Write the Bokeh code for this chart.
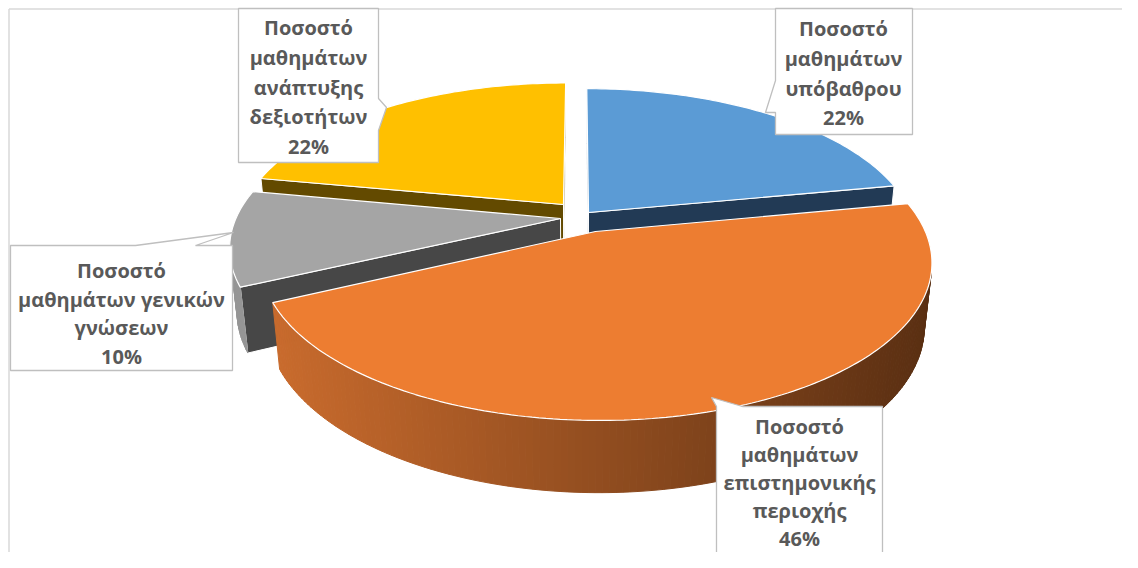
import numpy as np
from bokeh.plotting import figure
from bokeh.models import Range1d
from bokeh.embed import file_html
from bokeh.resources import INLINE
from bokeh.core.properties import value

# ---------------- data ----------------
categories = [
    "Ποσοστό μαθημάτων υπόβαθρου",
    "Ποσοστό μαθημάτων επιστημονικής περιοχής",
    "Ποσοστό μαθημάτων γενικών γνώσεων",
    "Ποσοστό μαθημάτων ανάπτυξης δεξιοτήτων",
]
values = [22, 46, 10, 22]
label_lines = [
    ["Ποσοστό", "μαθημάτων", "υπόβαθρου"],
    ["Ποσοστό", "μαθημάτων", "επιστημονικής", "περιοχής"],
    ["Ποσοστό", "μαθημάτων γενικών", "γνώσεων"],
    ["Ποσοστό", "μαθημάτων", "ανάπτυξης", "δεξιοτήτων"],
]

# ---------------- styles ----------------
top_colors = ["#5B9BD5", "#ED7D31", "#A5A5A5", "#FFC000"]
cut_colors = ["#223A55", "#6B3A16", "#474747", "#634A00"]
side_light = ["#3E6E9C", "#C96B2D", "#959595", "#8A6A00"]
side_dark = ["#24405C", "#5A2F12", "#6E6E6E", "#5E4800"]
TEXT_COLOR = "#595959"
BOX_LINE = "#BFBFBF"
FONT = "Open Sans"

W, H = 1122, 552
p = figure(width=W, height=H, x_range=Range1d(0, W), y_range=Range1d(H, 0),
           output_backend="svg", toolbar_location=None, min_border=0)
p.axis.visible = False
p.grid.visible = False
p.outline_line_color = None
p.background_fill_color = "white"
p.border_fill_color = "white"

# chart border (top and left visible)
p.line(x=[8.5, W], y=[8.5, 8.5], line_color="#D9D9D9", line_width=1.5)
p.line(x=[8.5, 8.5], y=[8.5, H], line_color="#D9D9D9", line_width=1.5)

# ---------------- 3D projection ----------------
phi = np.radians(27.3)
cphi, sphi = np.cos(phi), np.sin(phi)
Dst = 4.81
S = 325 * Dst
cx, cy = 577, 219
h = 0.22
cam = np.array([0.0, -Dst * cphi, Dst * sphi])

# screen positions of each slice's apex (explosion placement)
apex_screen = [(588, 212), (595, 231), (560, 218), (563, 204)]


def proj(x, y, z):
    depth = y * cphi - z * sphi + Dst
    yc = y * sphi + z * cphi
    return cx + S * x / depth, cy - S * yc / depth


def unproj_flat(X, Y):
    k = (cy - Y) / (S * sphi)
    oy = k * Dst / (1 - k * cphi)
    ox = (X - cx) * (Dst + oy * cphi) / S
    return ox, oy


def lerp_color(c1, c2, t):
    t = min(max(t, 0.0), 1.0)
    a = [int(c1[i:i + 2], 16) for i in (1, 3, 5)]
    b = [int(c2[i:i + 2], 16) for i in (1, 3, 5)]
    return "#%02x%02x%02x" % tuple(int(round(a[k] + (b[k] - a[k]) * t)) for k in range(3))


total = float(sum(values))
starts = np.concatenate([[0], np.cumsum(values)[:-1]]) / total * 2 * np.pi
ends = np.cumsum(values) / total * 2 * np.pi


def visible(pt, n):
    return np.dot(np.array(pt) - cam, np.array(n)) < 0


def draw_slice(i):
    a, b = starts[i], ends[i]
    ox, oy = unproj_flat(*apex_screen[i])
    n_arc = max(int((b - a) / np.radians(1.0)), 4)
    th = np.linspace(a, b, n_arc + 1)

    # radial cut faces
    for ang, nrm in ((a, (-np.cos(a), np.sin(a), 0.0)), (b, (np.cos(b), -np.sin(b), 0.0))):
        rx, ry = ox + np.sin(ang), oy + np.cos(ang)
        cen = (0.5 * (ox + rx), 0.5 * (oy + ry), -h / 2)
        if visible(cen, nrm):
            pts = [proj(ox, oy, 0), proj(rx, ry, 0), proj(rx, ry, -h), proj(ox, oy, -h)]
            p.patch([q[0] for q in pts], [q[1] for q in pts], fill_color=cut_colors[i],
                    line_color="white", line_width=1.0)

    # outer curved side as shaded strips
    xs, ys, cols = [], [], []
    for k in range(n_arc):
        t0, t1 = th[k], th[k + 1]
        tm = 0.5 * (t0 + t1)
        cen = (ox + np.sin(tm), oy + np.cos(tm), -h / 2)
        if not visible(cen, (np.sin(tm), np.cos(tm), 0.0)):
            continue
        pts = [proj(ox + np.sin(t0), oy + np.cos(t0), 0), proj(ox + np.sin(t1), oy + np.cos(t1), 0),
               proj(ox + np.sin(t1), oy + np.cos(t1), -h), proj(ox + np.sin(t0), oy + np.cos(t0), -h)]
        xs.append([q[0] for q in pts])
        ys.append([q[1] for q in pts])
        X = proj(cen[0], cen[1], 0)[0]
        cols.append(lerp_color(side_light[i], side_dark[i], (X - 270) / 660))
    if xs:
        p.patches(xs, ys, fill_color=cols, line_color=cols, line_width=1.0)

    # top face
    pts = [proj(ox, oy, 0)] + [proj(ox + np.sin(t), oy + np.cos(t), 0) for t in th]
    p.patch([q[0] for q in pts], [q[1] for q in pts], fill_color=top_colors[i],
            line_color="white", line_width=1.2)


for idx in (3, 0, 2, 1):
    draw_slice(idx)

# ---------------- callout labels ----------------
boxes = {
    0: [(775, 8), (912, 8), (912, 134), (775, 134), (775, 112), (765, 112), (775, 80)],
    1: [(716, 560), (716, 406), (711, 397), (742, 406), (882, 406), (882, 560)],
    2: [(10, 245), (135, 245), (233, 232), (195, 245), (232, 245), (232, 370), (10, 370)],
    3: [(238, 8), (378, 8), (378, 98), (386, 107), (378, 130), (378, 162), (238, 162)],
}
text_cx = {0: 843, 1: 799, 2: 121, 3: 308}
text_y0 = {0: 28, 1: 426, 2: 270, 3: 27}
line_step = {0: 29.8, 1: 28.0, 2: 28.5, 3: 29.8}

for i in range(4):
    pts = boxes[i]
    p.patch([q[0] for q in pts], [q[1] for q in pts], fill_color="white",
            line_color=BOX_LINE, line_width=1.3)
    lines = label_lines[i] + ["%d%%" % values[i]]
    ys = [text_y0[i] + k * line_step[i] for k in range(len(lines))]
    p.text(x=[text_cx[i]] * len(lines), y=ys, text=lines, text_align="center",
           text_baseline="middle", text_font=value(FONT), text_font_style="bold",
           text_font_size="20px", text_color=TEXT_COLOR)

open("out.html", "w").write(file_html(p, INLINE))
